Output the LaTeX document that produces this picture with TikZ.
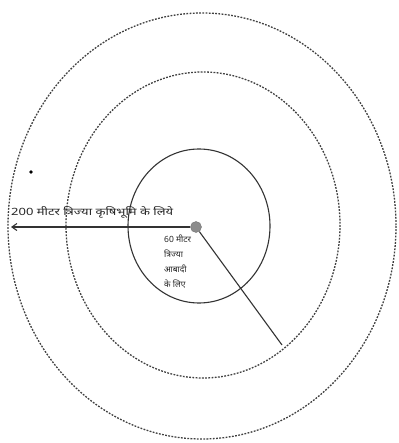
\documentclass[tikz,border=0pt]{standalone}
\usepackage{fontspec}
\newfontfamily\hindi[Script=Devanagari]{Noto Sans}
\newfontfamily\hindiwide[Script=Devanagari, FakeStretch=1.3]{Noto Sans}
\usetikzlibrary{arrows.meta}
\begin{document}
\begin{tikzpicture}[x=1pt,y=-1pt,
  ring/.style={draw=black!80, line width=1.1pt},
  dashring/.style={draw=black!75, line width=1.3pt, dash pattern=on 1.8pt off 1.4pt},
  lbl/.style={font=\hindi\fontsize{10}{15}\selectfont, text=black!85, inner sep=1pt}]
\useasboundingbox (0,0) rectangle (398,443);
\fill[white] (0,0) rectangle (398,443);
% rings
\draw[ring] (199,226) ellipse [x radius=71, y radius=77];
\draw[dashring] (203,225) ellipse [x radius=137, y radius=153];
\draw[dashring] (202,226) ellipse [x radius=194, y radius=213];
% centre
\node[circle, fill=black!45, draw=black!55, minimum size=11pt, inner sep=0pt] (c) at (196,227) {};
\coordinate (w) at (11,227);
\coordinate (se) at (282,345);
\draw[black!80, line width=1.1pt, -{Straight Barb[length=5pt,width=7pt]}] (c) -- (w);
\draw[black!80, line width=1.1pt] (c) -- (se);
\fill[black] (31,172) circle (1.8);
% labels
\node[lbl, anchor=base west, font=\hindiwide\fontsize{10}{15}\selectfont] (t1) at (10,215) {200 मीटर त्रिज्या कृषिभूमि के लिये};
\node[lbl, anchor=north west, align=left, font=\hindi\fontsize{8.5}{15}\selectfont] (t2) at (163,234) {60 मीटर\\त्रिज्या\\आबादी\\के लिए};
\end{tikzpicture}
\end{document}
